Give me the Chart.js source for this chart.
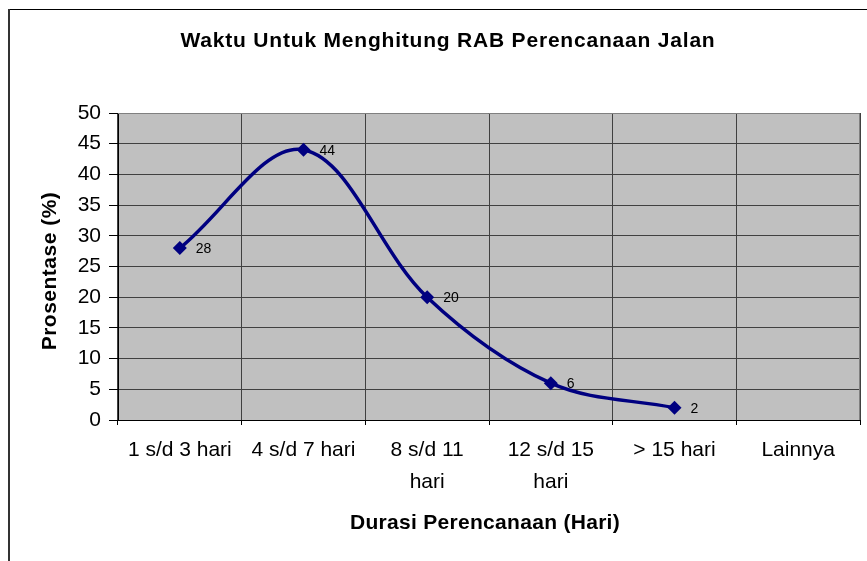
<!DOCTYPE html>
<html>
<head>
<meta charset="utf-8">
<script src="https://cdn.jsdelivr.net/npm/chart.js@4/dist/chart.umd.min.js"></script>
<style>
  html, body { margin: 0; padding: 0; background: #fff; }
  #wrap { width: 867px; height: 561px; position: relative; }
</style>
</head>
<body>
<div id="wrap"><canvas id="chart"></canvas></div>
<script>
const categories = [['1 s/d 3 hari'], ['4 s/d 7 hari'], ['8 s/d 11', 'hari'], ['12 s/d 15', 'hari'], ['> 15 hari'], ['Lainnya']];
const prosentase = [28, 44, 20, 6, 2, null];
const yTicks = [0, 5, 10, 15, 20, 25, 30, 35, 40, 45, 50];

const chartTitle = 'Waktu Untuk Menghitung RAB Perencanaan Jalan';
const xTitle = 'Durasi Perencanaan (Hari)';
const yTitle = 'Prosentase (%)';

const FONT = '"Liberation Sans", Arial, sans-serif';

// frame, plot background, titles and point labels
const decor = {
    id: 'decor',
    beforeDraw(chart) {
        const ctx = chart.ctx;
        const a = chart.chartArea;
        ctx.save();
        ctx.fillStyle = '#c0c0c0';
        ctx.fillRect(a.left, a.top, a.right - a.left, a.bottom - a.top);
        ctx.strokeStyle = '#000';
        ctx.lineWidth = 1;
        ctx.beginPath();
        ctx.moveTo(9, 9.5);
        ctx.lineTo(867, 9.5);
        ctx.stroke();
        ctx.strokeStyle = '#333';
        ctx.lineWidth = 2;
        ctx.beginPath();
        ctx.moveTo(9, 9);
        ctx.lineTo(9, 561);
        ctx.stroke();
        ctx.restore();
    },
    afterDatasetsDraw(chart) {
        const ctx = chart.ctx;
        const a = chart.chartArea;
        ctx.save();
        // plot border top/right
        ctx.strokeStyle = '#808080';
        ctx.lineWidth = 1;
        ctx.beginPath();
        ctx.moveTo(a.left, a.top + 0.5);
        ctx.lineTo(a.right - 0.5, a.top + 0.5);
        ctx.lineTo(a.right - 0.5, a.bottom);
        ctx.stroke();

        ctx.fillStyle = '#000';
        ctx.textAlign = 'center';
        ctx.textBaseline = 'middle';
        ctx.font = 'bold 21px ' + FONT;
        ctx.letterSpacing = '0.8px';
        ctx.fillText(chartTitle, 448, 41);
        ctx.letterSpacing = '0.3px';
        ctx.fillText(xTitle, 485, 523);
        ctx.letterSpacing = '0.5px';
        ctx.translate(50, 271);
        ctx.rotate(-Math.PI / 2);
        ctx.fillText(yTitle, 0, 0);
        ctx.restore();

        ctx.save();
        ctx.fillStyle = '#000';
        ctx.font = '14px ' + FONT;
        ctx.textAlign = 'left';
        ctx.textBaseline = 'middle';
        const meta = chart.getDatasetMeta(0);
        meta.data.forEach((pt, i) => {
            const v = prosentase[i];
            if (v === null) return;
            ctx.fillText(String(v), pt.x + 16, pt.y + 1);
        });
        ctx.restore();
    }
};

new Chart(document.getElementById('chart'), {
    type: 'line',
    data: {
        labels: categories,
        datasets: [{
            label: yTitle,
            data: prosentase,
            borderColor: '#000080',
            backgroundColor: '#000080',
            borderWidth: 3.5,
            tension: 0.35,
            pointStyle: 'rectRot',
            pointRadius: 7,
            pointBorderWidth: 0,
            pointBackgroundColor: '#000080'
        }]
    },
    options: {
        responsive: true,
        maintainAspectRatio: false,
        animation: false,
        layout: { padding: { left: 0, top: 113, right: 4, bottom: 0 } },
        plugins: {
            legend: { display: false },
            title: { display: false },
            tooltip: { enabled: false }
        },
        scales: {
            x: {
                offset: true,
                grid: {
                    offset: true,
                    color: '#404040',
                    lineWidth: 1,
                    tickColor: '#000',
                    tickLength: 5
                },
                border: { color: '#000', width: 1 },
                ticks: {
                    color: '#000',
                    maxRotation: 0,
                    autoSkip: false,
                    padding: 9,
                    font: { family: FONT, size: 21, lineHeight: 1.52 }
                },
                afterFit(scale) { scale.height = 141; }
            },
            y: {
                min: 0,
                max: 50,
                afterBuildTicks(scale) { scale.ticks = yTicks.map(v => ({ value: v })); },
                grid: {
                    color: '#404040',
                    lineWidth: 1,
                    tickColor: '#000',
                    tickLength: 9
                },
                border: { color: '#000', width: 1 },
                ticks: {
                    color: '#000',
                    padding: 8,
                    font: { family: FONT, size: 21 }
                },
                afterFit(scale) { scale.width = 118; }
            }
        }
    },
    plugins: [decor]
});
</script>
</body>
</html>
